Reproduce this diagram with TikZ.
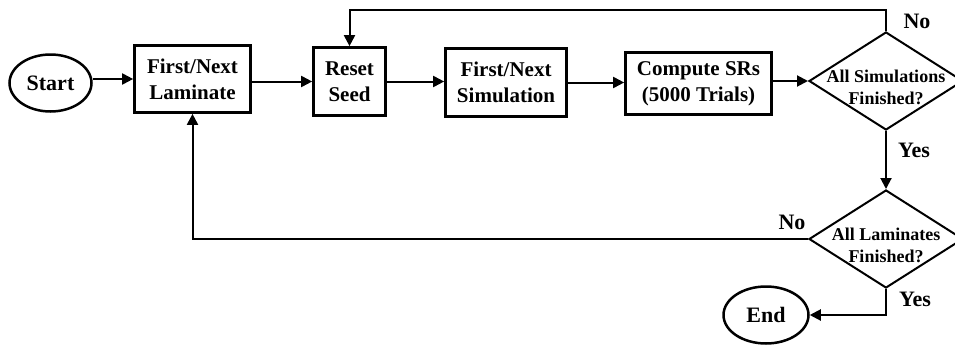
\documentclass[tikz,border=0pt]{standalone}
\usepackage{fontspec}
\setmainfont{Liberation Serif}
\usetikzlibrary{shapes.geometric,arrows.meta,calc}
% two lines of text that do not widen the diamond
\newcommand\dtext[2]{\raisebox{-12pt}[0pt][0pt]{\makebox[0pt]{\begin{tabular}{@{}c@{}}#1\\#2\end{tabular}}}}

\begin{document}
\begin{tikzpicture}[x=1pt,y=-1pt,
  term/.style={ellipse,draw,line width=2.5pt,minimum width=82pt,minimum height=57pt,font=\fontsize{22}{26}\selectfont\bfseries},
  proc/.style={rectangle,draw,line width=2.7pt,align=center,minimum height=67pt,font=\fontsize{21}{26}\selectfont\bfseries},
  decide/.style={diamond,draw,line width=2pt,inner sep=0pt,minimum width=154pt,minimum height=98pt,font=\fontsize{18}{22}\selectfont\bfseries},
  lbl/.style={font=\fontsize{22}{24}\selectfont\bfseries},
  arr/.style={line width=2pt,-{Triangle[length=11pt,width=11pt]}}]
\useasboundingbox (0,0) rectangle (955,348);
% main row
\node[term] (start) at (50.5,83) {Start};
\node[proc,minimum width=116pt] (lam) at (192.5,79) {First/Next\\Laminate};
\node[proc,minimum width=72pt,minimum height=68pt] (seed) at (349.5,81.5) {Reset\\Seed};
\node[proc,minimum width=121pt,minimum height=68pt] (sim) at (506,82.5) {First/Next\\Simulation};
\node[proc,minimum width=146pt,minimum height=62pt] (srs) at (698.5,83.5) {Compute SRs\\(5000 Trials)};
\node[decide] (simdone) at (886,81) {\dtext{All Simulations}{Finished?}};
% right column
\node[decide] (lamdone) at (886,239) {\dtext{All Laminates}{Finished?}};
\node[term,minimum width=85pt] (end) at (766,315) {End};
% branch labels
\node[lbl] (no1) at (917,21) {No};
\node[lbl] (yes1) at (914,150) {Yes};
\node[lbl] (no2) at (792,222) {No};
\node[lbl] (yes2) at (915,299) {Yes};

\draw[arr] (start.east |- lam.west) -- (lam.west);
\draw[arr] (lam.east |- seed.west) -- (seed.west);
\draw[arr] (seed.east) -- (seed.east -| sim.west);
\draw[arr] (sim.east) -- (sim.east -| srs.west);
\draw[arr] (srs.east |- simdone.west) -- (simdone.west);
\draw[arr] (simdone.north) -- ++(0,-21.5) -| (seed.north);
\draw[arr] (simdone.south) -- (lamdone.north);
\draw[arr] (lamdone.west) -| (lam.south);
\draw[arr] (lamdone.south) |- (end.east);
\end{tikzpicture}
\end{document}
